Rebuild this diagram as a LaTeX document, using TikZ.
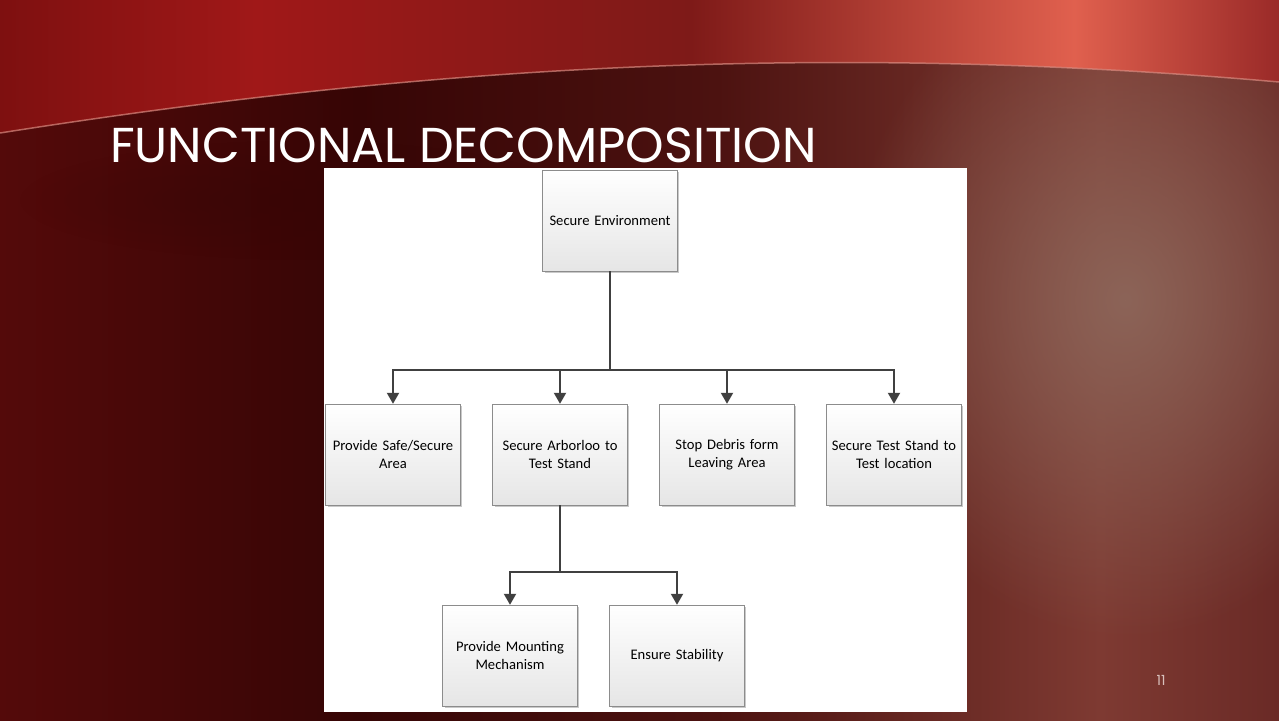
\documentclass[tikz,border=0pt]{standalone}
\usepackage{fontspec}
\setmainfont{Carlito}
\newfontfamily\titlefont{Poppins}
\usetikzlibrary{arrows.meta,shadows,fadings}

\definecolor{lowA}{HTML}{540A0A}
\definecolor{lowB}{HTML}{360505}
\definecolor{lowC}{HTML}{4C1210}
\definecolor{lowD}{HTML}{7E3A32}
\definecolor{lowE}{HTML}{6A2A26}
\definecolor{topA}{HTML}{7E1010}
\definecolor{topB}{HTML}{A01818}
\definecolor{topC}{HTML}{7E1A18}
\definecolor{topD}{HTML}{E0604E}
\definecolor{topE}{HTML}{9A2A28}
\definecolor{glow}{HTML}{8C6458}
\definecolor{rim}{HTML}{D88A80}
\definecolor{linkgray}{HTML}{404040}
\definecolor{pagenum}{HTML}{D8C0BC}

% shading stops mapped to the 25bp..75bp part that TikZ fits to the path
\pgfdeclarehorizontalshading{slidelow}{100bp}{color(0bp)=(lowA); color(25bp)=(lowA); color(39bp)=(lowB); color(53bp)=(lowC); color(68bp)=(lowD); color(75bp)=(lowE); color(100bp)=(lowE)}
\pgfdeclarehorizontalshading{slidetop}{100bp}{color(0bp)=(topA); color(25bp)=(topA); color(35bp)=(topB); color(52bp)=(topC); color(67bp)=(topD); color(75bp)=(topE); color(100bp)=(topE)}
\tikzfading[name=softspot, inner color=transparent!0, outer color=transparent!100]

\tikzset{
	funcbox/.style={draw=black!45, top color=white, bottom color=black!10,
		minimum width=134pt, minimum height=101pt, text width=128pt, align=center,
		font=\fontsize{14.6}{18}\selectfont,
		drop shadow={shadow xshift=2pt, shadow yshift=-2pt, opacity=.35, fill=black!60}},
	link/.style={draw=linkgray, line width=2pt, -{Triangle[width=12pt,length=11pt]}},
	trunk/.style={draw=linkgray, line width=2pt}
}

\begin{document}
\begin{tikzpicture}[x=1pt,y=-1pt]
	\useasboundingbox (0,0) rectangle (1279,720);
	% slide background
	\shade[shading=slidelow] (0,0) rectangle (1279,720);
	\fill[glow, path fading=softspot] (1125,300) ellipse (280 and 340);
	\fill[lowB, opacity=.5, path fading=softspot] (300,200) ellipse (280 and 60);
	\shade[shading=slidetop] (0,0) -- (1279,0) -- (1279,82) .. controls (800,40) and (400,70) .. (0,133) -- cycle;
	\draw[rim, line width=1.5pt, opacity=.7] (0,133) .. controls (400,70) and (800,40) .. (1279,82);
	% panel
	\fill[white] (324,168) rectangle (967,712);
	% title and page number
	\node[anchor=base west, text=white, font=\titlefont\fontsize{49}{49}\selectfont, inner sep=0pt] (title) at (110,162) {FUNCTIONAL DECOMPOSITION};
	\node[text=pagenum, font=\titlefont\fontsize{14}{14}\selectfont] (page) at (1161,680) {11};
	% boxes
	\node[funcbox] (env) at (610,220.5) {Secure Environment};
	\node[funcbox] (safe) at (393,454.5) {Provide Safe/Secure\\Area};
	\node[funcbox] (arbor) at (560,454.5) {Secure Arborloo to\\Test Stand};
	\node[funcbox] (debris) at (727,454.5) {Stop Debris form\\Leaving Area};
	\node[funcbox] (stand) at (894,454.5) {Secure Test Stand to\\Test location};
	\node[funcbox] (mount) at (510,655.5) {Provide Mounting\\Mechanism};
	\node[funcbox] (stab) at (677,655.5) {Ensure Stability};
	% connectors
	\coordinate (bus1) at (610,370);
	\coordinate (bus2) at (560,572);
	\draw[trunk] (env.south) -- (bus1);
	\draw[link] (bus1) -| (safe.north);
	\draw[link] (bus1) -| (arbor.north);
	\draw[link] (bus1) -| (debris.north);
	\draw[link] (bus1) -| (stand.north);
	\draw[trunk] (arbor.south) -- (bus2);
	\draw[link] (bus2) -| (mount.north);
	\draw[link] (bus2) -| (stab.north);
\end{tikzpicture}
\end{document}
